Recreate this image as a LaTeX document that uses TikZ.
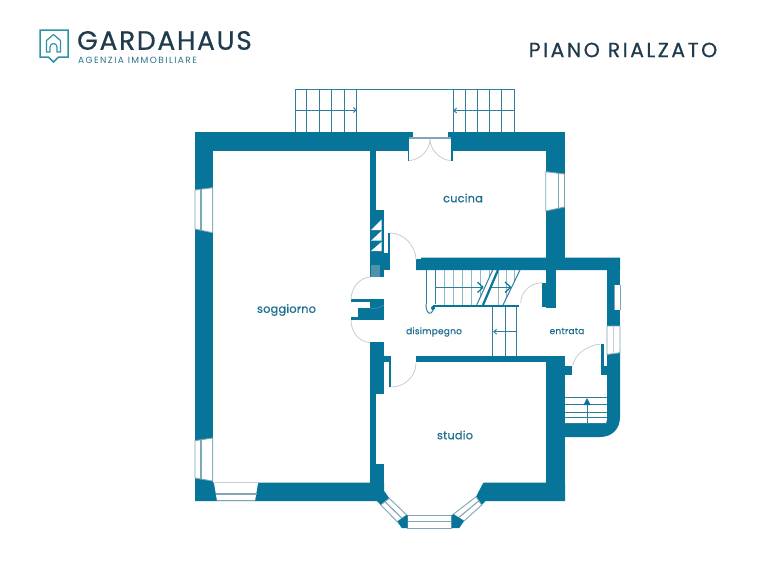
\documentclass[tikz,border=0pt]{standalone}
\usepackage{fontspec}
\setmainfont{Poppins}
\usetikzlibrary{calc,arrows.meta}
\definecolor{wall}{HTML}{07749A}
\definecolor{wlite}{HTML}{4F93AB}
\definecolor{stair}{HTML}{2F7F9C}
\definecolor{stairlite}{HTML}{8DB8C6}
\definecolor{glass}{HTML}{7FA6B4}
\definecolor{arcgrey}{HTML}{C6CED2}
\definecolor{inkdark}{HTML}{1F3B4D}
\definecolor{inkteal}{HTML}{1C6F8E}
\definecolor{logoteal}{HTML}{2E93A3}
\tikzset{
  wallfill/.style={fill=wall},
  win/.style={fill=white,draw=glass,line width=0.9pt},
  glassline/.style={draw=glass,line width=1.1pt},
  swing/.style={draw=arcgrey,line width=0.8pt},
  tread/.style={draw=stair,line width=1pt},
  treadlite/.style={draw=stairlite,line width=0.9pt},
  treadbold/.style={draw=wall,line width=1.2pt},
  walk/.style={draw=stair,line width=0.9pt,-{Straight Barb[length=3pt,width=5pt]}},
  room/.style={text=inkteal,font=\fontsize{11.3}{13}\selectfont\addfontfeature{FakeBold=0.5,LetterSpace=2}},
  roomsmall/.style={text=inkteal,font=\fontsize{9}{11}\selectfont\addfontfeature{FakeBold=0.4,LetterSpace=2.5}},
}
\begin{document}
\begin{tikzpicture}[x=1pt,y=-1pt]
\useasboundingbox (0,0) rectangle (768,560);
\fill[white] (0,0) rectangle (768,560);

% ---------- logo
\draw[logoteal,line width=1.5pt,line join=miter] (48.5,57) -- (40,57) -- (40,30) -- (68,30) -- (68,57) -- (58.5,57) -- (53.5,62) -- cycle;
\draw[logoteal,line width=1.2pt,line join=round] (50,52) -- (46.5,52) -- (46.5,40.5) -- (53.5,34.5) -- (60.5,40.5) -- (60.5,52) -- (57,52) -- (57,47) arc[start angle=0,end angle=-180,radius=3.5] -- cycle;
\node[anchor=west,inner sep=0pt,text=inkdark,font=\fontsize{26.5}{28}\selectfont\addfontfeature{FakeBold=0.6,LetterSpace=6.5}] (brand) at (77,40.5) {GARDAHAUS};
\node[anchor=west,inner sep=0pt,text=inkteal!85!gray,font=\fontsize{9}{10}\selectfont\addfontfeature{LetterSpace=16}] (agency) at (78,60) {AGENZIA IMMOBILIARE};
\node[anchor=center,inner sep=0pt,text=inkdark,font=\fontsize{20.5}{22}\selectfont\addfontfeature{FakeBold=0.5,LetterSpace=12}] (floor) at (623,50) {PIANO RIALZATO};

% ---------- external stairs
\draw[tread] (295,89) -- (514,89);
\foreach \x in {295,306.7,319.3,331.7,344.3,356.7,453.3,465,477.3,489.7,501.7,514}
  \draw[tread] (\x,89) -- (\x,132);
\draw[walk] (295,110) -- (357,110);
\draw[walk] (514,110.5) -- (453,110.5);

% ---------- main walls
\fill[wallfill] (195,132) rectangle (565,151);
\fill[wallfill] (195,132) rectangle (213,501);
\fill[wallfill] (546,132) rectangle (565,270);
\fill[wallfill] (195,482.5) -- (370,482.5) -- (384,482.5) -- (384,490.7) -- (389.3,498.3) -- (380.7,505) -- (377,501) -- (195,501) -- cycle;
\fill[wallfill] (483.3,482.7) -- (565,482.7) -- (565,501) -- (485.7,501) -- (481.7,505) -- (476,496.7) -- cycle;
\fill[wallfill] (546,356) rectangle (565,501);
% partition soggiorno / cucina / studio
\fill[wallfill] (370,151) rectangle (375.7,277);
\fill[wallfill] (370,210) rectangle (384,277);
\fill[wallfill] (384,253) rectangle (390,270);
\fill[wallfill] (387.7,233) rectangle (390,253);
\fill[white] (371,230) -- (381.7,219.3) -- (381.7,230) -- cycle;
\fill[white] (371,240.7) -- (381.7,230.7) -- (381.7,240.7) -- cycle;
\fill[white] (371,251) -- (381.7,241.7) -- (381.7,251) -- cycle;
\fill[wlite] (371,265) rectangle (380,277);
\fill[wallfill] (350.7,299.3) rectangle (370,301.7);
\fill[wallfill] (370,299.3) rectangle (384,320);
\fill[wallfill] (358,308) rectangle (370,320);
\fill[wallfill] (350.7,317.3) rectangle (358,320);
\draw[draw=wlite,line width=0.6pt] (370,308) .. controls (375,309) and (380,308) .. (384,305);
\fill[wallfill] (370,342) rectangle (384,394);
\fill[wallfill] (370,394) rectangle (376,464);
\fill[wallfill] (370,464) rectangle (384,490);
\fill[wallfill] (384,356) rectangle (391,362);
\fill[wallfill] (389.3,362) rectangle (391.3,387);
% stair-hall walls
\fill[wallfill] (421,257.5) -- (620,257.5) -- (620,270) -- (416,270) -- (416,259) -- (421,259) -- cycle;
\fill[wallfill] (416,356) rectangle (546,362);
\fill[wallfill] (546,270) rectangle (556,308);
\fill[wallfill] (542,283) rectangle (546,306.5);
% porch
\fill[wallfill] (607,257.5) rectangle (620,353);
\fill[wallfill] (565,366) rectangle (572,375);
\fill[wallfill] (601,344) rectangle (604,366);
\fill[wallfill] (601,366) rectangle (607,375);
\fill[wallfill] (607,366) -- (607,353) -- (620,350) -- (620,417) .. controls (620,429) and (612,437) .. (600,437) -- (565,437) -- (565,424) -- (603,424) .. controls (606,424) and (607,423) .. (607,420) -- cycle;

% ---------- windows
\path[win] (195,190) -- (212.7,187.7) -- (212.7,232.7) -- (195,229) -- cycle;
\draw[glassline] (201,189.3) -- (201,230.3);
\path[win] (195,440.7) -- (212.7,438) -- (212.7,481) -- (195,478) -- cycle;
\draw[glassline] (201,440) -- (201,479);
\path[win] (545.7,171.7) -- (564.5,174) -- (564.5,207) -- (545.7,211) -- cycle;
\draw[glassline] (558.3,173.2) -- (558.3,208);
\fill[white] (214,483) -- (258,483) -- (255,501) -- (217,501) -- cycle;
\draw[draw=arcgrey,line width=1pt] (214,482.5) -- (258,482.5);
\draw[glassline] (215.7,494) -- (256.5,494);
\draw[glassline] (217,500.7) -- (255,500.7);
\fill[white] (614,285) rectangle (620,310);
\draw[draw=glass,line width=0.8pt] (614,285) -- (614,310);
\draw[draw=glass,line width=0.8pt] (620,285) -- (620,310);
\path[win] (607,326) -- (620,326) -- (620,352.7) -- (607,354.5) -- cycle;
\draw[draw=arcgrey,line width=.8pt] (613.5,326) -- (613.5,353.5);
% bay window
\coordinate (bla) at (380.7,505);
\coordinate (blb) at (397.3,521.7);
\coordinate (blc) at (406.7,515);
\coordinate (bld) at (389.3,498.3);
\coordinate (bra) at (481.7,505);
\coordinate (brb) at (464,521);
\coordinate (brc) at (453.3,514.3);
\coordinate (brd) at (476,496.7);
\path[win] (bla) -- (blb) -- (blc) -- (bld) -- cycle;
\draw[glassline] ($(bla)!.5!(bld)$) -- ($(blb)!.5!(blc)$);
\path[win] (bra) -- (brb) -- (brc) -- (brd) -- cycle;
\draw[glassline] ($(bra)!.5!(brd)$) -- ($(brb)!.5!(brc)$);
\path[win] (407.7,515.5) rectangle (451.7,528);
\draw[glassline] (407.7,521.7) -- (451.7,521.7);
\fill[wallfill] (397.3,521.7) -- (406.7,515) -- (407.7,515) -- (407.7,528) -- (401.7,528) -- cycle;
\fill[wallfill] (451.7,515) -- (453.3,514.3) -- (464,521) -- (459.3,528) -- (451.7,528) -- cycle;

% ---------- kitchen door
\fill[white] (413.3,132) rectangle (447.7,137);
\draw[glassline] (409.3,138) -- (450.7,138);
\fill[white] (409.3,139) rectangle (450.7,151.5);
\fill[wallfill] (407.5,139) rectangle (409.3,161);
\fill[wallfill] (450.7,139) rectangle (452.5,161);
\draw[swing] (409.3,160.5) .. controls (420,160) and (430,150) .. (430,139);
\draw[swing] (450.7,160.5) .. controls (440,160) and (430,150) .. (430,139);

% ---------- door swings
\draw[swing] (390,233) .. controls (404,233) and (416,246) .. (416,260);
\draw[swing] (370,277) .. controls (359,278) and (351,288) .. (351,300);
\draw[swing] (351,320) .. controls (351,332) and (359,342) .. (370,342.5);
\draw[swing] (391.3,387) .. controls (405,387) and (416,376) .. (416,363);
\draw[swing] (542,282.7) .. controls (530,283) and (521,292) .. (520.7,303);
\draw[swing] (601,344) .. controls (587,345) and (574,355) .. (572.7,366);

% ---------- inner stairs
\foreach \x in {426,435}
  \draw[tread] (\x,270) -- (\x,304);
\foreach \x in {444,453,462,471}
  \draw[treadlite] (\x,270) -- (\x,305);
\draw[treadlite] (480,270) -- (480,296);
\draw[treadlite] (489,270) -- (489,278);
\draw[treadlite] (498,272) -- (498,305);
\draw[treadlite] (506,270) -- (506,297);
\draw[treadlite] (514,270) -- (514,282);
\draw[tread] (435,287.3) -- (483,287.3);
\draw[treadbold] (483,287.3) -- (477.5,282);
\draw[treadbold] (483,287.3) -- (477.5,292.5);
\draw[tread] (490,287.3) -- (510.7,287.3);
\draw[treadbold] (510.7,287.3) -- (505,282);
\draw[treadbold] (510.7,287.3) -- (505,292.5);
\draw[draw=wall,line width=2.4pt] (433,306) -- (519,306);
\draw[tread] (492.7,270) -- (476.7,305);
\draw[draw=wall,line width=2.2pt] (498,270) -- (483,305);
\draw[tread] (520,270) -- (503,305);
\draw[tread] (426,304) .. controls (426,311) and (428,314) .. (431,313) .. controls (433,312) and (433,310) .. (433,308);
\fill[wallfill] (433,308) circle[radius=2];
\foreach \x in {492.7,505,516.7}
  \draw[tread] (\x,306) -- (\x,356);
\draw[walk] (516.7,331.7) -- (493,331.7);
% porch steps
\foreach \y in {397,404,412,417,423}
  \draw[tread] (565,\y) -- (607,\y);
\draw[tread] (587,424) -- (587,402);
\fill[wallfill] (587,398) -- (590.5,405) -- (583.5,405) -- cycle;

% ---------- room labels
\node[room] (cucina) at (463,198) {cucina};
\node[room] (soggiorno) at (286.5,310) {soggiorno};
\node[roomsmall] (disimpegno) at (434,332) {disimpegno};
\node[roomsmall] (entrata) at (567,331) {entrata};
\node[room] (studio) at (455,435) {studio};
\end{tikzpicture}
\end{document}
